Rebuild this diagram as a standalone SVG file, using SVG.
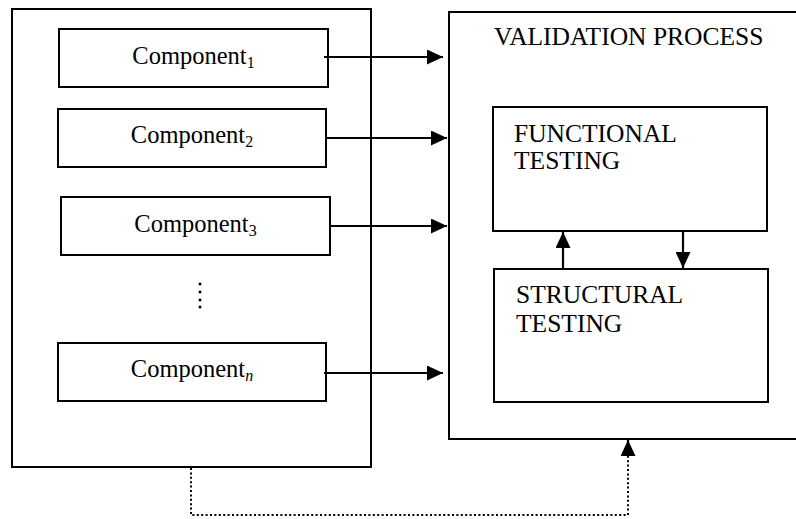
<svg xmlns="http://www.w3.org/2000/svg" width="796" height="519" viewBox="0 0 796 519">
  <style>
    .box { fill: #fff; stroke: #000; stroke-width: 2; }
    .label { font-family: "Liberation Serif", "Times New Roman", serif; font-size: 24.5px; fill: #000; }
    .caps { font-family: "Liberation Serif", "Times New Roman", serif; font-size: 25.5px; fill: #000; }
    .sub { font-size: 16px; }
    .edge { fill: none; stroke: #000; stroke-width: 2.2; }
    .dotted { fill: none; stroke: #000; stroke-width: 2; stroke-dasharray: 2 2.4; }
  </style>
  <defs>
    <marker id="head" markerUnits="userSpaceOnUse" markerWidth="16" markerHeight="15" refX="16" refY="7.5" orient="auto">
      <path d="M0,0 L16,7.5 L0,15 Z" fill="#000"/>
    </marker>
  </defs>

  <rect width="796" height="519" fill="#fff"/>

  <!-- system container with its components -->
  <g id="system">
    <rect class="box" x="12" y="9" width="359" height="458"/>
  </g>
  <g id="component-1">
    <rect class="box" x="59" y="29" width="269" height="58"/>
    <text class="label" x="193.5" y="64" text-anchor="middle">Component<tspan class="sub" dy="4">1</tspan></text>
  </g>
  <g id="component-2">
    <rect class="box" x="58" y="109" width="268" height="58"/>
    <text class="label" x="192" y="143" text-anchor="middle">Component<tspan class="sub" dy="4">2</tspan></text>
  </g>
  <g id="component-3">
    <rect class="box" x="61" y="197" width="269" height="58"/>
    <text class="label" x="195.5" y="232" text-anchor="middle">Component<tspan class="sub" dy="4">3</tspan></text>
  </g>
  <g id="ellipsis">
    <circle cx="200" cy="284" r="1.5"/>
    <circle cx="200" cy="292" r="1.5"/>
    <circle cx="200" cy="300" r="1.5"/>
    <circle cx="200" cy="307" r="1.5"/>
  </g>
  <g id="component-n">
    <rect class="box" x="58" y="343" width="268" height="58"/>
    <text class="label" x="192" y="377" text-anchor="middle">Component<tspan class="sub" font-style="italic" dy="4">n</tspan></text>
  </g>

  <!-- validation process -->
  <g id="validation-process">
    <rect class="box" x="449" y="12" width="360" height="427"/>
    <text class="caps" x="494" y="45">VALIDATION PROCESS</text>
  </g>
  <g id="functional-testing">
    <rect class="box" x="493" y="107" width="274" height="124"/>
    <text class="caps" x="514" y="142">FUNCTIONAL</text>
    <text class="caps" x="514" y="169">TESTING</text>
  </g>
  <g id="structural-testing">
    <rect class="box" x="494" y="269" width="274" height="133"/>
    <text class="caps" x="516" y="303">STRUCTURAL</text>
    <text class="caps" x="516" y="332">TESTING</text>
  </g>

  <!-- connectors -->
  <g id="connectors">
    <line class="edge" x1="324" y1="57" x2="443" y2="57" marker-end="url(#head)"/>
    <line class="edge" x1="326" y1="138" x2="447" y2="138" marker-end="url(#head)"/>
    <line class="edge" x1="330" y1="226" x2="447" y2="226" marker-end="url(#head)"/>
    <line class="edge" x1="324" y1="373" x2="443" y2="373" marker-end="url(#head)"/>
    <line class="edge" x1="563" y1="269" x2="563" y2="232" marker-end="url(#head)"/>
    <line class="edge" x1="683" y1="231" x2="683" y2="268" marker-end="url(#head)"/>
    <polyline class="dotted" points="191,468 191,515 628,515 628,455"/>
    <line class="edge" x1="628" y1="456" x2="628" y2="440" marker-end="url(#head)" stroke-width="0.5"/>
  </g>
</svg>
